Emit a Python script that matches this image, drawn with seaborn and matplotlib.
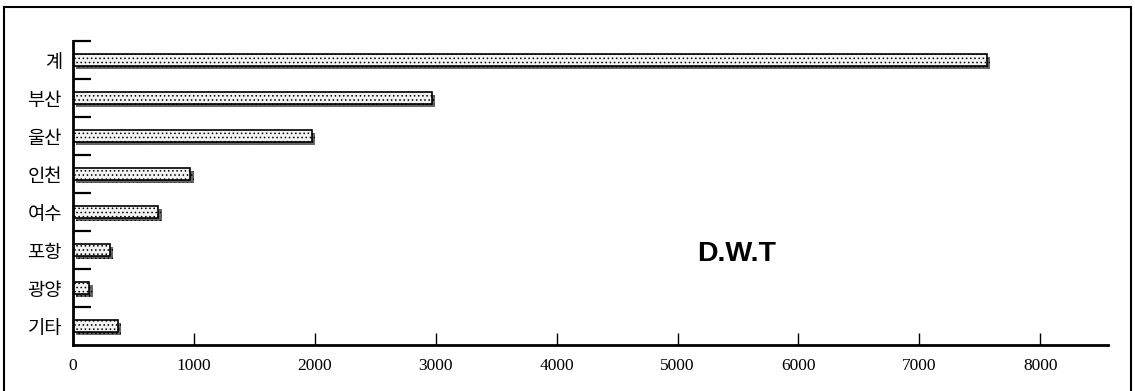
import matplotlib
matplotlib.use("Agg")
import matplotlib.pyplot as plt
import matplotlib.patheffects as pe
from matplotlib.patches import Rectangle
from matplotlib.ticker import FixedLocator, NullFormatter
import seaborn as sns
import pandas as pd

# Ship tonnage (D.W.T) by port
ports = ["계", "부산", "울산", "인천", "여수", "포항", "광양", "기타"]
dwt = [7560, 2970, 1975, 970, 705, 305, 135, 370]
x_ticks = [0, 1000, 2000, 3000, 4000, 5000, 6000, 7000, 8000]
unit_label = "D.W.T"

sns.set_theme(style="white")
plt.rcParams["font.family"] = ["Noto Sans CJK KR", "DejaVu Sans"]
plt.rcParams["hatch.color"] = "#b4b4b4"
plt.rcParams["hatch.linewidth"] = 0.6

df = pd.DataFrame({"port": ports, "dwt": dwt})

fig = plt.figure(figsize=(11.35, 3.91), dpi=100)
fig.patch.set_facecolor("white")
ax = fig.add_axes([73 / 1135, 1 - 345 / 391, (1108 - 73) / 1135, (345 - 41) / 391])

sns.barplot(data=df, x="dwt", y="port", orient="h", width=0.32,
            color="#f2f2f2", edgecolor="black", linewidth=1.2, ax=ax)

# dotted face with a dark drop shadow
for bar in ax.patches:
    bar.set_hatch("....")
    bar.set_path_effects([
        pe.SimplePatchShadow(offset=(2.4, -2.4), shadow_rgbFace="#666666", alpha=1.0),
        pe.Normal(),
    ])

ax.set_xlim(0, 8560)
ax.set_ylim(len(ports) - 0.5, -0.5)
ax.set_xlabel("")
ax.set_ylabel("")

# x axis: inward ticks, serif numerals
ax.set_xticks(x_ticks)
ax.set_xticklabels([str(v) for v in x_ticks], fontfamily="Liberation Serif", fontsize=12.5)
ax.tick_params(axis="x", direction="in", length=9, width=1.0, color="black", pad=9,
               bottom=True)

# y axis: category labels, boundary ticks pointing inward
ax.yaxis.set_minor_locator(FixedLocator([i - 0.5 for i in range(len(ports))]))
ax.yaxis.set_minor_formatter(NullFormatter())
ax.tick_params(axis="y", which="major", length=0, pad=8, labelsize=13.5)
ax.tick_params(axis="y", which="minor", direction="in", length=13, width=1.6,
               color="black", left=True)
for lbl in ax.get_yticklabels():
    lbl.set_color("black")
for lbl in ax.get_xticklabels():
    lbl.set_color("black")

for side in ("top", "right"):
    ax.spines[side].set_visible(False)
for side in ("left", "bottom"):
    ax.spines[side].set_color("black")
    ax.spines[side].set_linewidth(2.0)

ax.text(0.603, (345 - 254) / 304, unit_label, transform=ax.transAxes, fontsize=20.5,
        fontweight="bold", fontfamily="Liberation Sans", color="black",
        ha="left", va="center")

# outer frame around the whole figure
fig.patches.append(Rectangle((4 / 1135, -0.05), (1131 - 4) / 1135, 1.05 - 7 / 391,
                             transform=fig.transFigure, fill=False,
                             edgecolor="black", linewidth=1.5, zorder=0))

fig.savefig("out.png", dpi=100, facecolor="white")
